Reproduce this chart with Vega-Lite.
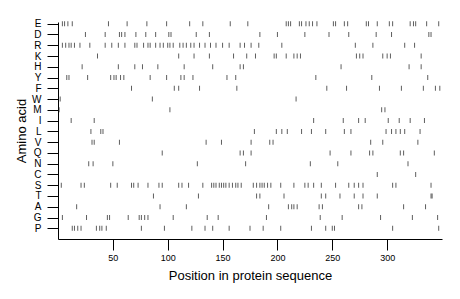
{
"$schema": "https://vega.github.io/schema/vega-lite/v6.json",
"width": 384, "height": 217,
"autosize": {"type": "none"},
"padding": {"left": 58, "top": 22, "right": 18, "bottom": 60},
"background": "white",
"config": {"view": {"stroke": null}, "font": "Liberation Sans"},
"datasets": {"seq": [
{"aa":"E","pos":4},{"aa":"E","pos":6},{"aa":"E","pos":9},{"aa":"E","pos":13},{"aa":"E","pos":46},{"aa":"E","pos":63},{"aa":"E","pos":81},{"aa":"E","pos":99},{"aa":"E","pos":120},{"aa":"E","pos":132},{"aa":"E","pos":157},{"aa":"E","pos":173},{"aa":"E","pos":208},{"aa":"E","pos":210},{"aa":"E","pos":212},{"aa":"E","pos":220},{"aa":"E","pos":222},{"aa":"E","pos":226},{"aa":"E","pos":229},{"aa":"E","pos":232},{"aa":"E","pos":236},{"aa":"E","pos":251},{"aa":"E","pos":253},{"aa":"E","pos":261},{"aa":"E","pos":264},{"aa":"E","pos":281},{"aa":"E","pos":283},{"aa":"E","pos":291},{"aa":"E","pos":302},{"aa":"E","pos":305},{"aa":"E","pos":321},{"aa":"E","pos":324},{"aa":"E","pos":326},{"aa":"E","pos":336},{"aa":"E","pos":347},
{"aa":"D","pos":25},{"aa":"D","pos":43},{"aa":"D","pos":56},{"aa":"D","pos":58},{"aa":"D","pos":61},{"aa":"D","pos":71},{"aa":"D","pos":80},{"aa":"D","pos":89},{"aa":"D","pos":101},{"aa":"D","pos":103},{"aa":"D","pos":126},{"aa":"D","pos":138},{"aa":"D","pos":184},{"aa":"D","pos":200},{"aa":"D","pos":225},{"aa":"D","pos":247},{"aa":"D","pos":265},{"aa":"D","pos":290},{"aa":"D","pos":304},{"aa":"D","pos":338},{"aa":"D","pos":340},
{"aa":"R","pos":4},{"aa":"R","pos":7},{"aa":"R","pos":10},{"aa":"R","pos":12},{"aa":"R","pos":15},{"aa":"R","pos":20},{"aa":"R","pos":29},{"aa":"R","pos":43},{"aa":"R","pos":49},{"aa":"R","pos":55},{"aa":"R","pos":61},{"aa":"R","pos":70},{"aa":"R","pos":72},{"aa":"R","pos":78},{"aa":"R","pos":82},{"aa":"R","pos":84},{"aa":"R","pos":89},{"aa":"R","pos":93},{"aa":"R","pos":96},{"aa":"R","pos":100},{"aa":"R","pos":102},{"aa":"R","pos":105},{"aa":"R","pos":111},{"aa":"R","pos":114},{"aa":"R","pos":117},{"aa":"R","pos":121},{"aa":"R","pos":124},{"aa":"R","pos":129},{"aa":"R","pos":134},{"aa":"R","pos":139},{"aa":"R","pos":144},{"aa":"R","pos":150},{"aa":"R","pos":156},{"aa":"R","pos":166},{"aa":"R","pos":170},{"aa":"R","pos":176},{"aa":"R","pos":183},{"aa":"R","pos":204},{"aa":"R","pos":271},{"aa":"R","pos":287},{"aa":"R","pos":316},{"aa":"R","pos":325},
{"aa":"K","pos":36},{"aa":"K","pos":110},{"aa":"K","pos":124},{"aa":"K","pos":138},{"aa":"K","pos":160},{"aa":"K","pos":172},{"aa":"K","pos":180},{"aa":"K","pos":197},{"aa":"K","pos":199},{"aa":"K","pos":208},{"aa":"K","pos":215},{"aa":"K","pos":218},{"aa":"K","pos":221},{"aa":"K","pos":272},{"aa":"K","pos":275},{"aa":"K","pos":278},{"aa":"K","pos":296},{"aa":"K","pos":300},{"aa":"K","pos":303},{"aa":"K","pos":331},
{"aa":"H","pos":22},{"aa":"H","pos":55},{"aa":"H","pos":70},{"aa":"H","pos":77},{"aa":"H","pos":91},{"aa":"H","pos":115},{"aa":"H","pos":141},{"aa":"H","pos":166},{"aa":"H","pos":169},{"aa":"H","pos":258},{"aa":"H","pos":320},{"aa":"H","pos":331},
{"aa":"Y","pos":8},{"aa":"Y","pos":10},{"aa":"Y","pos":27},{"aa":"Y","pos":48},{"aa":"Y","pos":51},{"aa":"Y","pos":53},{"aa":"Y","pos":57},{"aa":"Y","pos":60},{"aa":"Y","pos":84},{"aa":"Y","pos":99},{"aa":"Y","pos":112},{"aa":"Y","pos":115},{"aa":"Y","pos":123},{"aa":"Y","pos":154},{"aa":"Y","pos":162},{"aa":"Y","pos":235},{"aa":"Y","pos":286},{"aa":"Y","pos":337},
{"aa":"F","pos":67},{"aa":"F","pos":106},{"aa":"F","pos":110},{"aa":"F","pos":129},{"aa":"F","pos":163},{"aa":"F","pos":245},{"aa":"F","pos":263},{"aa":"F","pos":293},{"aa":"F","pos":313},{"aa":"F","pos":333},{"aa":"F","pos":344},{"aa":"F","pos":348},
{"aa":"W","pos":2},{"aa":"W","pos":86},{"aa":"W","pos":217},
{"aa":"M","pos":1},{"aa":"M","pos":102},{"aa":"M","pos":295},{"aa":"M","pos":298},
{"aa":"I","pos":12},{"aa":"I","pos":33},{"aa":"I","pos":233},{"aa":"I","pos":260},{"aa":"I","pos":274},{"aa":"I","pos":280},{"aa":"I","pos":301},{"aa":"I","pos":311},{"aa":"I","pos":321},{"aa":"I","pos":334},
{"aa":"L","pos":30},{"aa":"L","pos":39},{"aa":"L","pos":41},{"aa":"L","pos":179},{"aa":"L","pos":199},{"aa":"L","pos":204},{"aa":"L","pos":209},{"aa":"L","pos":222},{"aa":"L","pos":231},{"aa":"L","pos":244},{"aa":"L","pos":261},{"aa":"L","pos":267},{"aa":"L","pos":299},{"aa":"L","pos":304},{"aa":"L","pos":308},{"aa":"L","pos":312},{"aa":"L","pos":316},{"aa":"L","pos":330},
{"aa":"V","pos":31},{"aa":"V","pos":33},{"aa":"V","pos":56},{"aa":"V","pos":135},{"aa":"V","pos":149},{"aa":"V","pos":176},{"aa":"V","pos":193},{"aa":"V","pos":196},{"aa":"V","pos":285},{"aa":"V","pos":296},{"aa":"V","pos":328},
{"aa":"Q","pos":95},{"aa":"Q","pos":166},{"aa":"Q","pos":169},{"aa":"Q","pos":176},{"aa":"Q","pos":248},{"aa":"Q","pos":267},{"aa":"Q","pos":284},{"aa":"Q","pos":287},{"aa":"Q","pos":312},{"aa":"Q","pos":315},{"aa":"Q","pos":343},
{"aa":"N","pos":28},{"aa":"N","pos":32},{"aa":"N","pos":50},{"aa":"N","pos":127},{"aa":"N","pos":171},{"aa":"N","pos":230},{"aa":"N","pos":255},{"aa":"N","pos":319},
{"aa":"C","pos":291},{"aa":"C","pos":326},
{"aa":"S","pos":3},{"aa":"S","pos":21},{"aa":"S","pos":24},{"aa":"S","pos":48},{"aa":"S","pos":54},{"aa":"S","pos":67},{"aa":"S","pos":69},{"aa":"S","pos":73},{"aa":"S","pos":82},{"aa":"S","pos":92},{"aa":"S","pos":95},{"aa":"S","pos":110},{"aa":"S","pos":113},{"aa":"S","pos":119},{"aa":"S","pos":132},{"aa":"S","pos":140},{"aa":"S","pos":142},{"aa":"S","pos":144},{"aa":"S","pos":147},{"aa":"S","pos":149},{"aa":"S","pos":151},{"aa":"S","pos":153},{"aa":"S","pos":156},{"aa":"S","pos":159},{"aa":"S","pos":162},{"aa":"S","pos":164},{"aa":"S","pos":167},{"aa":"S","pos":178},{"aa":"S","pos":181},{"aa":"S","pos":184},{"aa":"S","pos":186},{"aa":"S","pos":188},{"aa":"S","pos":191},{"aa":"S","pos":194},{"aa":"S","pos":203},{"aa":"S","pos":215},{"aa":"S","pos":225},{"aa":"S","pos":228},{"aa":"S","pos":233},{"aa":"S","pos":240},{"aa":"S","pos":253},{"aa":"S","pos":265},{"aa":"S","pos":270},{"aa":"S","pos":274},{"aa":"S","pos":278},{"aa":"S","pos":305},{"aa":"S","pos":308},{"aa":"S","pos":340},
{"aa":"T","pos":87},{"aa":"T","pos":128},{"aa":"T","pos":181},{"aa":"T","pos":184},{"aa":"T","pos":206},{"aa":"T","pos":240},{"aa":"T","pos":244},{"aa":"T","pos":257},{"aa":"T","pos":270},{"aa":"T","pos":278},{"aa":"T","pos":291},{"aa":"T","pos":340},{"aa":"T","pos":341},
{"aa":"A","pos":17},{"aa":"A","pos":93},{"aa":"A","pos":117},{"aa":"A","pos":192},{"aa":"A","pos":210},{"aa":"A","pos":213},{"aa":"A","pos":215},{"aa":"A","pos":218},{"aa":"A","pos":238},{"aa":"A","pos":241},{"aa":"A","pos":274},{"aa":"A","pos":277},{"aa":"A","pos":315},{"aa":"A","pos":335},
{"aa":"G","pos":4},{"aa":"G","pos":26},{"aa":"G","pos":45},{"aa":"G","pos":47},{"aa":"G","pos":64},{"aa":"G","pos":74},{"aa":"G","pos":76},{"aa":"G","pos":79},{"aa":"G","pos":82},{"aa":"G","pos":105},{"aa":"G","pos":136},{"aa":"G","pos":146},{"aa":"G","pos":190},{"aa":"G","pos":239},{"aa":"G","pos":259},{"aa":"G","pos":294},{"aa":"G","pos":323},{"aa":"G","pos":346},
{"aa":"P","pos":13},{"aa":"P","pos":15},{"aa":"P","pos":18},{"aa":"P","pos":21},{"aa":"P","pos":35},{"aa":"P","pos":38},{"aa":"P","pos":40},{"aa":"P","pos":44},{"aa":"P","pos":76},{"aa":"P","pos":97},{"aa":"P","pos":122},{"aa":"P","pos":134},{"aa":"P","pos":141},{"aa":"P","pos":156},{"aa":"P","pos":175},{"aa":"P","pos":187},{"aa":"P","pos":203},{"aa":"P","pos":231},{"aa":"P","pos":244},{"aa":"P","pos":250},{"aa":"P","pos":252},{"aa":"P","pos":305},{"aa":"P","pos":347}
]},
"data": {"name": "seq"},
"mark": {"type": "tick", "size": 5, "thickness": 1, "color": "#1a1a1a"},
"encoding": {
  "x": {"field": "pos", "type": "quantitative",
        "scale": {"domain": [0, 350], "nice": false, "zero": false},
        "axis": {"values": [50, 100, 150, 200, 250, 300], "grid": false, "title": "Position in protein sequence",
                 "domainColor": "black", "tickColor": "black", "tickSize": 11, "labelFontSize": 9, "labelColor": "black",
                 "labelPadding": 3, "labelFlush": false, "titleFontSize": 13, "titleFontWeight": "normal", "titleColor": "black", "titlePadding": 7}},
  "y": {"field": "aa", "type": "nominal",
        "sort": ["E","D","R","K","H","Y","F","W","M","I","L","V","Q","N","C","S","T","A","G","P"],
        "scale": {"type": "point", "padding": 0.576, "align": 0.137},
        "axis": {"grid": false, "title": "Amino acid", "domainColor": "black", "tickColor": "black", "tickSize": 11,
                 "labelFontSize": 10, "labelColor": "black", "labelPadding": 6, "titleFontSize": 13, "titleFontWeight": "normal",
                 "titleColor": "black", "titlePadding": 3}}
}
}
